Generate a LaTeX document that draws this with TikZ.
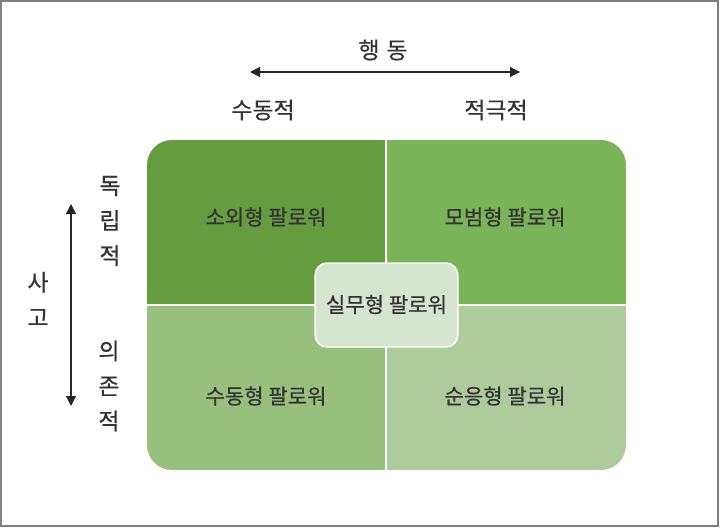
\documentclass[tikz,border=0pt]{standalone}
\usepackage{fontspec}
\newfontfamily\kr[FakeBold=0.6]{Noto Sans CJK KR}
\usetikzlibrary{positioning, arrows.meta}

\definecolor{qdark}{HTML}{659C3F}
\definecolor{qmid}{HTML}{7AB459}
\definecolor{qsoft}{HTML}{97C07C}
\definecolor{qpale}{HTML}{ADCB9B}
\definecolor{qcore}{HTML}{D6E5D0}
\definecolor{ink}{HTML}{333333}

\begin{document}
\begin{tikzpicture}[
    x=0.75pt, y=-0.75pt,
    type/.style={font=\kr\fontsize{15.8pt}{18pt}\selectfont, text=ink, inner sep=0pt},
    axislabel/.style={font=\kr\fontsize{17.2pt}{26.3pt}\selectfont, text=ink, align=center, inner sep=0pt},
    axis/.style={draw=black!85, line width=0.8pt, {Triangle[length=7.5pt, width=7.5pt]}-{Triangle[length=7.5pt, width=7.5pt]}},
    divider/.style={draw=white, line width=1.1pt},
    core/.style={
        fill=qcore, draw=white, line width=1.1pt, rounded corners=9pt,
        minimum width=107pt, minimum height=63pt,
        font=\kr\fontsize{15.8pt}{18pt}\selectfont, text=ink
    }
]
\useasboundingbox (0,0) rectangle (721,528);

% --- Frame ---
\draw[draw=black!50, line width=1.1pt] (1,1) rectangle (718,526);

% --- Quadrants ---
\begin{scope}
    \clip[rounded corners=18.75pt] (147,140) rectangle (626,470);
    \fill[qdark] (147,140) rectangle (386,305);
    \fill[qmid]  (386,140) rectangle (626,305);
    \fill[qsoft] (147,305) rectangle (386,470);
    \fill[qpale] (386,305) rectangle (626,470);
\end{scope}
\draw[divider] (386,140) -- (386,470);
\draw[divider] (147,305) -- (626,305);

\node[type] (alien)   at (266,217) {소외형 팔로워};
\node[type] (model)   at (505,217) {모범형 팔로워};
\node[type] (passive) at (266,396) {수동형 팔로워};
\node[type] (conform) at (505,396) {순응형 팔로워};

% --- Center box ---
\node[core] (pragma) at (386.5,305) {\raisebox{2pt}{실무형 팔로워}};

% --- Behaviour axis ---
\node[axislabel] (behave) at (383,50) {행\hspace{0.3em}동};
\coordinate (hleft)  at (250,72);
\coordinate (hright) at (520,72);
\draw[axis] (hleft) -- (hright);
\node[axislabel] (pas) at (263,110) {수동적};
\node[axislabel] (act) at (496,110) {적극적};

% --- Thinking axis ---
\node[axislabel] (think) at (38,299) {사\\고};
\coordinate (vtop)    at (71,204);
\coordinate (vbottom) at (71,406);
\draw[axis] (vtop) -- (vbottom);
\node[axislabel] (indep) at (110,221) {독\\립\\적};
\node[axislabel] (depen) at (109,386) {의\\존\\적};

\end{tikzpicture}
\end{document}
